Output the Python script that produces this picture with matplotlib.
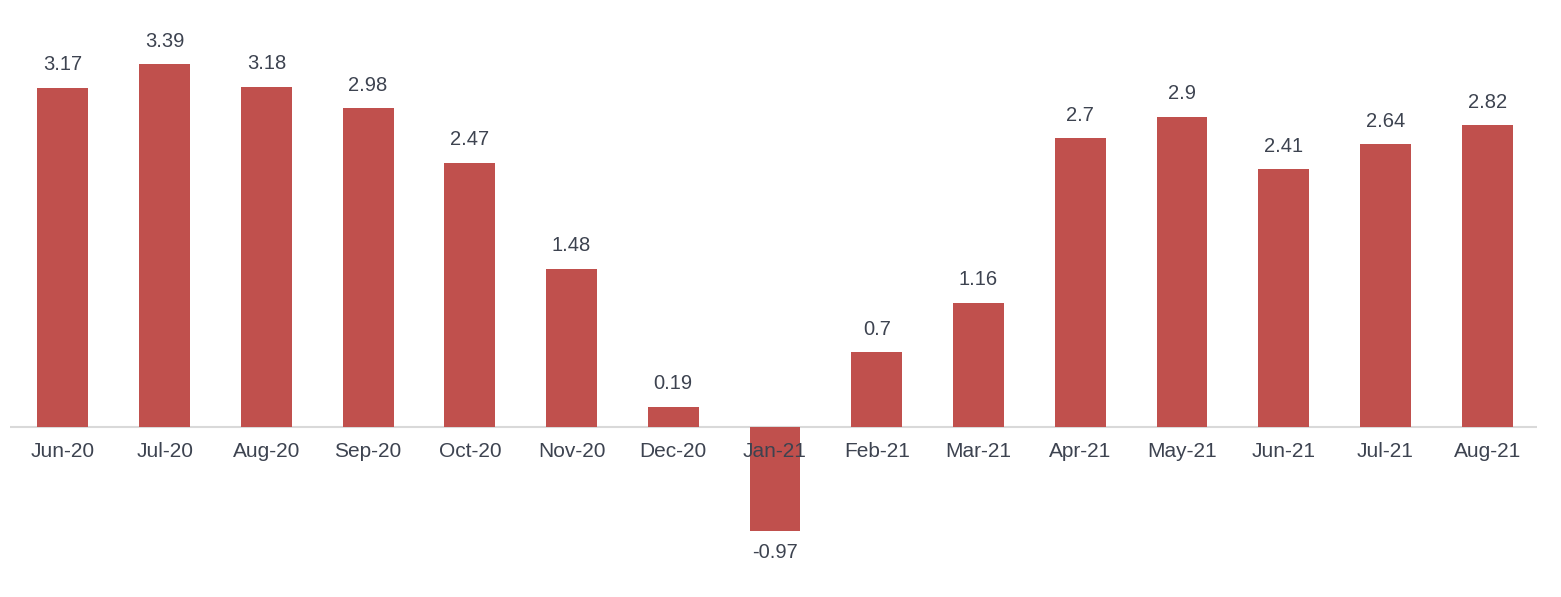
import matplotlib.pyplot as plt

months = ["Jun-20", "Jul-20", "Aug-20", "Sep-20", "Oct-20", "Nov-20", "Dec-20",
          "Jan-21", "Feb-21", "Mar-21", "Apr-21", "May-21", "Jun-21", "Jul-21", "Aug-21"]
values = [3.17, 3.39, 3.18, 2.98, 2.47, 1.48, 0.19,
          -0.97, 0.7, 1.16, 2.7, 2.9, 2.41, 2.64, 2.82]

bar_color = "#C0504D"
text_color = "#3d4350"

plt.rcParams["font.family"] = ["Liberation Sans", "DejaVu Sans"]

fig = plt.figure(figsize=(15.61, 5.97), dpi=100)
ax = fig.add_axes([10 / 1561, 0, 1527 / 1561, 1])

x = list(range(len(months)))
ax.bar(x, values, width=0.5, color=bar_color, zorder=1)
ax.axhline(0, color="#d9d9d9", linewidth=1.5, zorder=0.5)

ax.set_xlim(-0.52, len(months) - 1 + 0.49)
ax.set_ylim(-1.59, 3.99)
ax.axis("off")

# value labels
for i, v in enumerate(values):
    off = 16.5 if v >= 0 else -16
    ax.annotate(f"{v:g}", xy=(i, v), xytext=(0, off), textcoords="offset points",
                ha="center", va="center", fontsize=14.5, color=text_color, zorder=3)

# category labels just under the zero line
for i, m in enumerate(months):
    ax.annotate(m, xy=(i, 0), xytext=(0, -17.5), textcoords="offset points",
                ha="center", va="center", fontsize=15, color=text_color, zorder=3)

fig.savefig("out.png", dpi=100)
